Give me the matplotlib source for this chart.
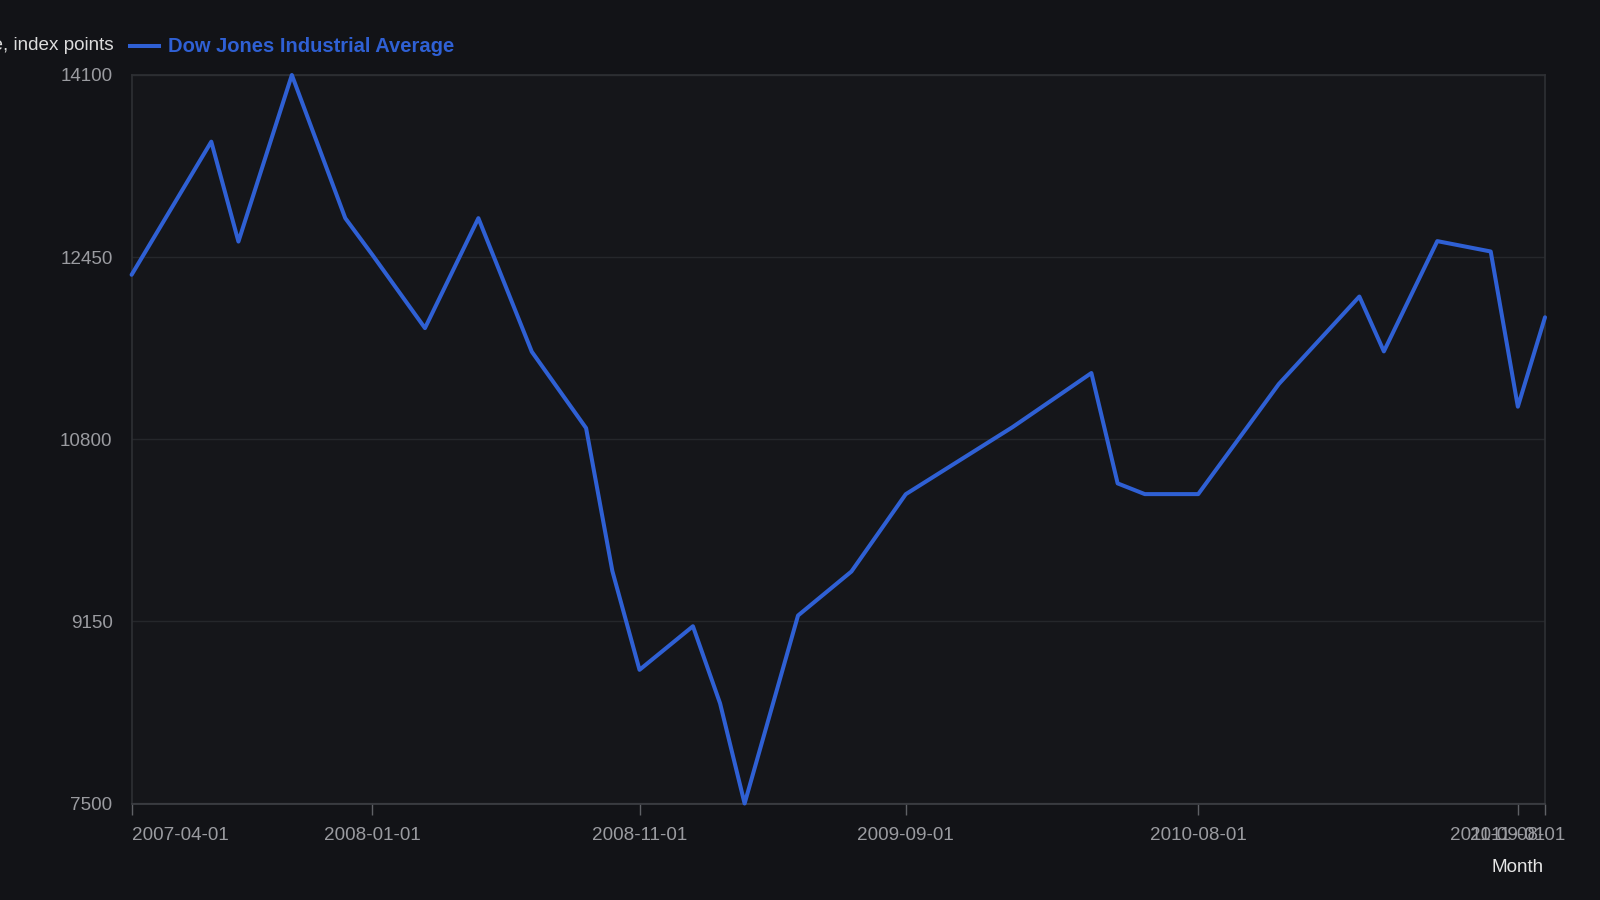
import matplotlib
matplotlib.use("Agg")
import matplotlib.pyplot as plt
from datetime import datetime

months = ["2007-04", "2007-07", "2007-08", "2007-10", "2007-12", "2008-01",
          "2008-03", "2008-05", "2008-07", "2008-09", "2008-10", "2008-11",
          "2009-01", "2009-02", "2009-03", "2009-05", "2009-07", "2009-09",
          "2010-01", "2010-04", "2010-05", "2010-06", "2010-08", "2010-11",
          "2011-02", "2011-03", "2011-05", "2011-07", "2011-08", "2011-09"]
values = [12290, 13496, 12591, 14100, 12803, 12470,
          11807, 12803, 11593, 10901, 9606, 8711,
          9106, 8407, 7500, 9203, 9602, 10302,
          10910, 11400, 10400, 10303, 10303, 11300,
          12093, 11596, 12595, 12501, 11095, 11905]
series_name = "Dow Jones Industrial Average"
y_title = "Close, index points"
x_title = "Month"
y_ticks = [7500, 9150, 10800, 12450, 14100]
x_tick_labels = ["2007-04-01", "2008-01-01", "2008-11-01", "2009-09-01",
                 "2010-08-01", "2011-08-01", "2011-09-01"]

dates = [datetime.strptime(m + "-01", "%Y-%m-%d") for m in months]
xticks = [datetime.strptime(s, "%Y-%m-%d") for s in x_tick_labels]

plt.rcParams['font.family'] = ['Liberation Sans', 'DejaVu Sans']

BG = "#121317"
AXBG = "#15161a"
LINE = "#2f60d4"
FRAME = "#2e3034"
GRID = "#25272b"
TICKC = "#9a9ba0"

fig = plt.figure(figsize=(16, 9), dpi=100, facecolor=BG)
ax = fig.add_axes([131.6 / 1600, 1 - 803.5 / 900, (1545 - 131.6) / 1600, (803.5 - 75) / 900])
ax.set_facecolor(AXBG)

ax.plot(dates, values, color=LINE, lw=2.9, solid_joinstyle='round',
        solid_capstyle='round', zorder=3, clip_on=False)

ax.set_xlim(dates[0], dates[-1])
ax.set_ylim(y_ticks[0], y_ticks[-1])
ax.set_yticks(y_ticks)
ax.set_yticklabels([str(v) for v in y_ticks])
ax.set_xticks(xticks)
ax.set_xticklabels(x_tick_labels)

for s in ax.spines.values():
    s.set_color(FRAME)
    s.set_linewidth(1.2)
ax.spines['bottom'].set_color("#3e4045")

ax.grid(axis='y', color=GRID, lw=1.0, zorder=0)
ax.grid(axis='x', visible=False)

ax.tick_params(axis='y', length=0, pad=13.7, labelsize=13.6, labelcolor=TICKC)
ax.tick_params(axis='x', length=8, width=1, color="#5f6166", pad=9,
               labelsize=13.6, labelcolor=TICKC)

labels = ax.get_xticklabels()
labels[0].set_ha('left')
labels[-1].set_ha('right')

fig.text(113.5 / 1600, 1 - 45 / 900, y_title, ha='right', va='center',
         fontsize=13.6, color="#dcdcdc")
fig.lines.append(plt.Line2D([130 / 1600, 159 / 1600], [1 - 46 / 900, 1 - 46 / 900],
                            transform=fig.transFigure, color=LINE, lw=2.9))
fig.text(168 / 1600, 1 - 46 / 900, series_name, ha='left', va='center',
         fontsize=14.5, fontweight='bold', color=LINE)
fig.text(1543.5 / 1600, 1 - 868 / 900, x_title, ha='right', va='center',
         fontsize=13.6, color="#e6e6e6")

fig.savefig("out.png", dpi=100, facecolor=BG)
